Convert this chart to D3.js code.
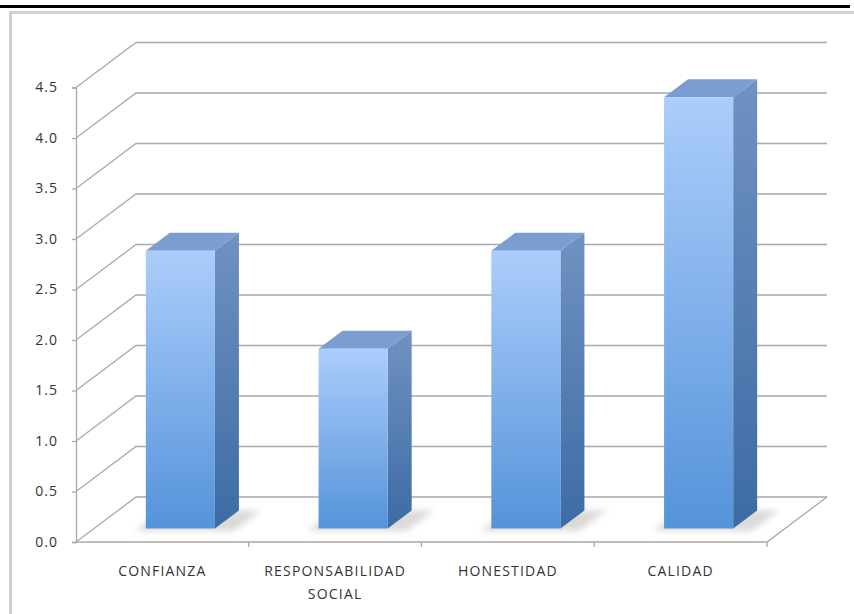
<!DOCTYPE html>
<html><head><meta charset="utf-8">
<script src="https://cdn.jsdelivr.net/npm/d3@7"></script>
<style>body{margin:0;background:#fff}svg{display:block}</style>
</head><body>
<svg id="c" width="854" height="614"></svg>
<script>
const categories = ["CONFIANZA", "RESPONSABILIDAD|SOCIAL", "HONESTIDAD", "CALIDAD"];
const values = [2.75, 1.78, 2.75, 4.27];
const yTicks = [0, 0.5, 1.0, 1.5, 2.0, 2.5, 3.0, 3.5, 4.0, 4.5];

const svg = d3.select("#c");
const W = 854, H = 614;
const x0 = 76, x1 = 767, yBase = 542, yTop = 87.5;
const DX = 60, DY = 45;          // full depth offset
const d0 = 0.3, d1 = 0.7;        // bar depth span (fraction)

const y = d3.scaleLinear().domain([0, 4.5]).range([yBase, yTop]);
const x = d3.scaleBand().domain(categories).range([x0, x1]).paddingInner(0.6).paddingOuter(0.3);
const step = x.step();
const P = (px, v, d) => [px + d * DX, y(v) - d * DY];
const line = d3.line();

// defs
const defs = svg.append("defs");
const gF = defs.append("linearGradient").attr("id", "gFront").attr("x1", 0).attr("y1", 0).attr("x2", 0).attr("y2", 1);
gF.append("stop").attr("offset", "0%").attr("stop-color", "#abcdfb");
gF.append("stop").attr("offset", "100%").attr("stop-color", "#5593da");
const gS = defs.append("linearGradient").attr("id", "gSide").attr("x1", 0).attr("y1", 0).attr("x2", 0).attr("y2", 1);
gS.append("stop").attr("offset", "0%").attr("stop-color", "#7092c1");
gS.append("stop").attr("offset", "100%").attr("stop-color", "#3c6ba5");
const blur = defs.append("filter").attr("id", "blur").attr("x", "-50%").attr("y", "-50%").attr("width", "200%").attr("height", "200%");
blur.append("feGaussianBlur").attr("stdDeviation", 3);

// page frame
svg.append("rect").attr("x", 0).attr("y", 5).attr("width", 850).attr("height", 3).attr("fill", "#000");
svg.append("path").attr("d", line([[10.5, H], [10.5, 12.5], [W, 12.5]]))
  .attr("fill", "none").attr("stroke", "#cfcfcf").attr("stroke-width", 3);

const grid = svg.append("g").attr("fill", "none").attr("stroke", "#a9a9a9").attr("stroke-width", 1.3);
// gridlines on side + back wall
yTicks.forEach(v => {
  grid.append("path").attr("d", line([P(x0, v, 0), P(x0, v, 1), P(x1, v, 1)]));
});
// floor front + right edges
grid.append("path").attr("d", line([P(x0, 0, 0), P(x1, 0, 0), P(x1, 0, 1)]));

// category ticks
categories.forEach((c, i) => {
  const px = x0 + (i + 1) * step;
  grid.append("line").attr("x1", px).attr("x2", px).attr("y1", yBase).attr("y2", yBase + 5);
});

// y axis
const ax = svg.append("g").attr("transform", `translate(${x0},0)`)
  .call(d3.axisLeft(y).tickValues(yTicks).tickFormat(d3.format(".1f")).tickSize(4).tickPadding(14));
ax.select(".domain").attr("stroke", "#a9a9a9").attr("stroke-width", 1.3);
ax.selectAll(".tick line").attr("stroke", "#a9a9a9").attr("stroke-width", 1.3);
ax.selectAll(".tick text").attr("fill", "#333").style("font-family", "Open Sans").style("font-size", "14px")
  .style("letter-spacing", "1px");

// bars
const bars = svg.append("g");
categories.forEach((c, i) => {
  const v = values[i];
  const bx = x(c), bw = x.bandwidth();
  // shadow
  bars.append("path").attr("d", line([P(bx - 8, 0, d0 - 0.05), P(bx + bw + 22, 0, d0 - 0.05), P(bx + bw + 22, 0, d1), P(bx - 8, 0, d1)]) + "Z")
    .attr("fill", "#9a948c").attr("opacity", 0.35).attr("filter", "url(#blur)");
  // side
  bars.append("path").attr("d", line([P(bx + bw, 0, d0), P(bx + bw, 0, d1), P(bx + bw, v, d1), P(bx + bw, v, d0)]) + "Z")
    .attr("fill", "url(#gSide)");
  // top
  bars.append("path").attr("d", line([P(bx, v, d0), P(bx + bw, v, d0), P(bx + bw, v, d1), P(bx, v, d1)]) + "Z")
    .attr("fill", "#7b9dd0");
  // front
  const [fx, fy] = P(bx, v, d0);
  const [, fb] = P(bx, 0, d0);
  bars.append("rect").attr("x", fx).attr("y", fy).attr("width", bw).attr("height", fb - fy)
    .attr("fill", "url(#gFront)");
});

// category labels
const lab = svg.append("g").attr("fill", "#333").style("font-family", "Open Sans").style("font-size", "14px")
  .style("letter-spacing", "1.2px").attr("text-anchor", "middle");
categories.forEach(c => {
  const cx = x(c) + x.bandwidth() / 2;
  const t = lab.append("text").attr("x", cx).attr("y", 576);
  c.split("|").forEach((s, j) => {
    t.append("tspan").attr("x", cx).attr("dy", j === 0 ? 0 : 23).text(s);
  });
});
</script>
</body></html>
